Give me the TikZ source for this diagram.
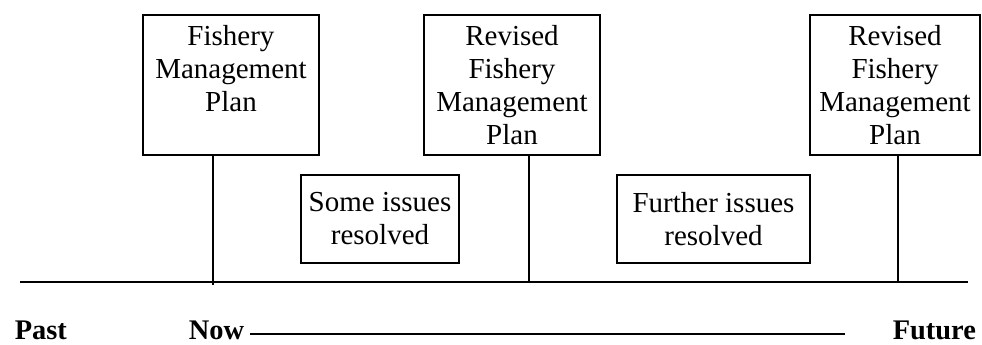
\documentclass[tikz,border=0pt]{standalone}
\usepackage{fontspec}
\setmainfont{Liberation Serif}

\begin{document}
\begin{tikzpicture}[x=0.5pt, y=0.5pt, line width=0.8pt,
  every node/.style={font=\fontsize{14.5}{16.5}\selectfont},
  plan/.style={draw, align=center, minimum height=70pt, inner sep=0pt},
  issue/.style={draw, align=center, minimum height=44pt, inner sep=0pt},
  era/.style={anchor=base west, inner sep=0pt, font=\fontsize{14.2}{16.5}\selectfont\bfseries}]
  \useasboundingbox (0,0) rectangle (982,344);
  \node[plan, minimum width=88pt] (fmp) at (231,259) {Fishery\\Management\\Plan\\~};
  \node[plan, minimum width=88pt] (rev1) at (512,259) {Revised\\Fishery\\Management\\Plan};
  \node[plan, minimum width=85pt] (rev2) at (895,259) {Revised\\Fishery\\Management\\Plan};
  \node[issue, minimum width=79pt] (some) at (380,125) {Some issues\\resolved};
  \node[issue, minimum width=96.5pt] (further) at (713.5,125) {Further issues\\resolved};
  \coordinate (start) at (20,62);
  \coordinate (stop) at (968,62);
  \coordinate (t1) at (213,59);
  \coordinate (t2) at (529,62);
  \coordinate (t3) at (898,62);
  \draw (start) -- (stop);
  \draw (fmp.south -| t1) -- (t1);
  \draw (rev1.south -| t2) -- (t2);
  \draw (rev2.south -| t3) -- (t3);
  \node[era] (past) at (14,5) {Past};
  \node[era] (now) at (188,5) {Now};
  \node[era] (future) at (892,5) {Future};
  \coordinate (nowend) at (845,10);
  \draw ([xshift=2.5pt]now.east |- nowend) -- (nowend);
\end{tikzpicture}
\end{document}
